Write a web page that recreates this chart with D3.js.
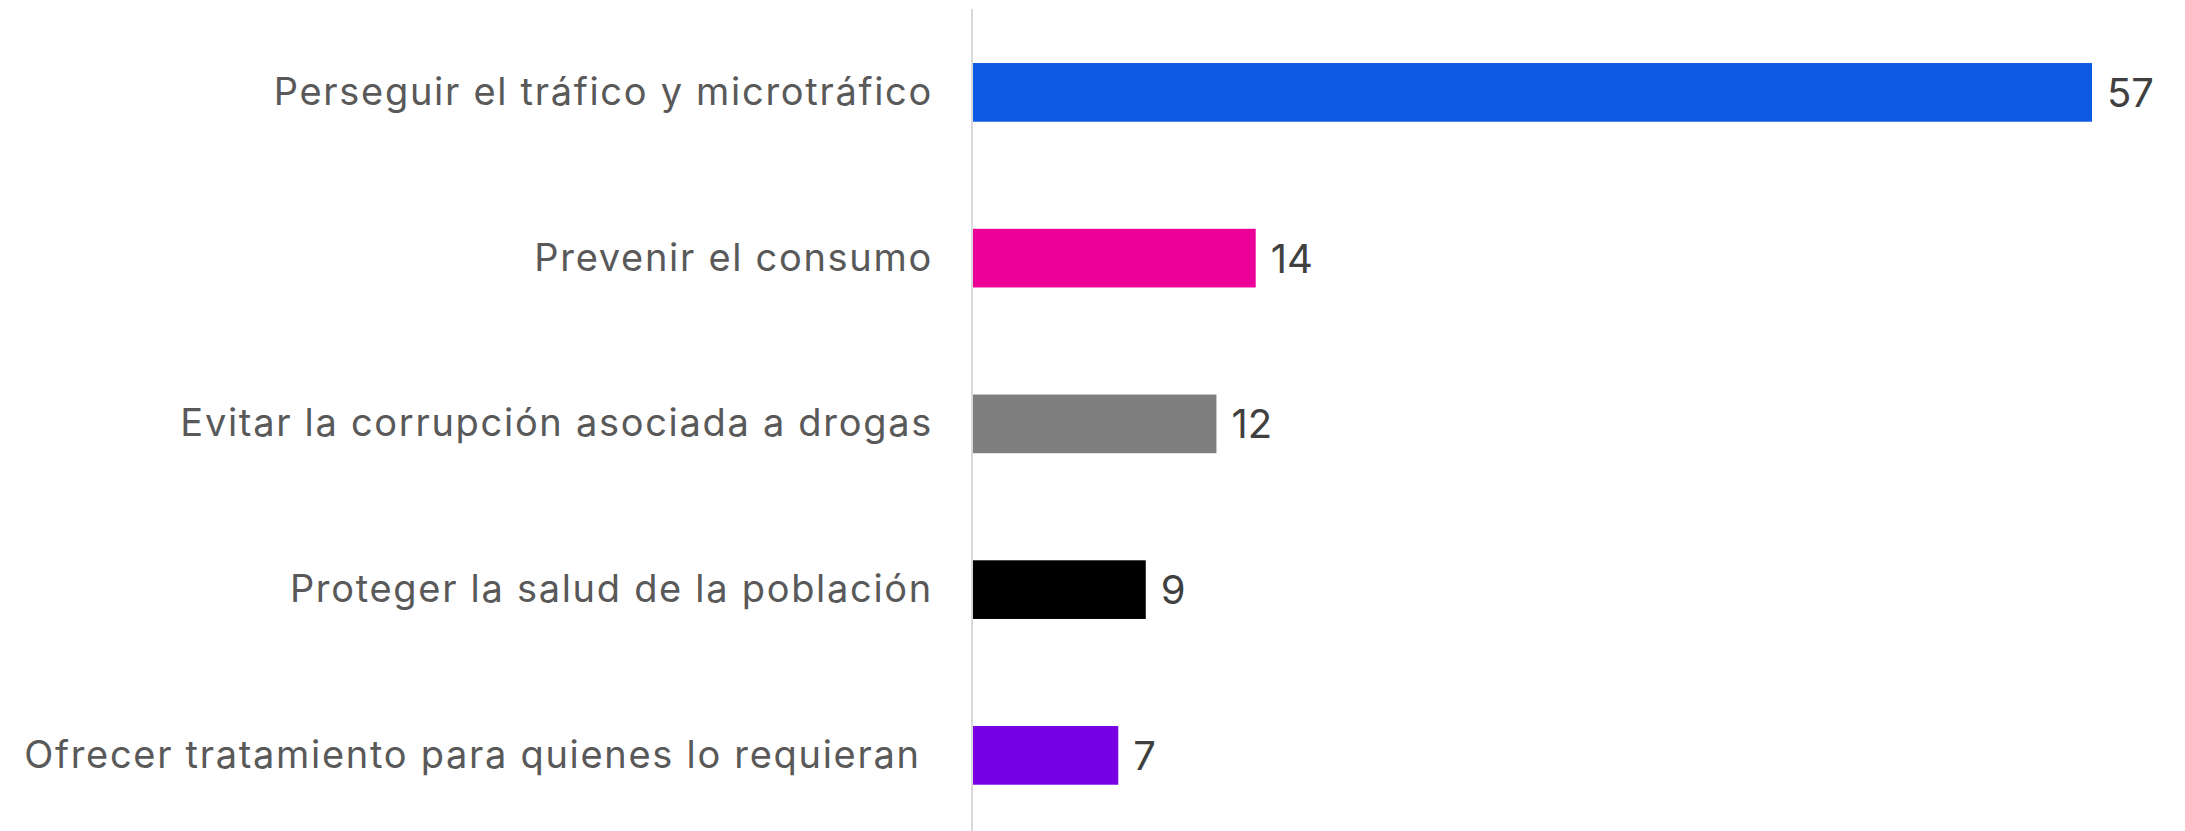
<!DOCTYPE html>
<html>
<head>
<meta charset="utf-8">
<script src="https://cdn.jsdelivr.net/npm/d3@7"></script>
<style>
  html, body { margin: 0; padding: 0; background: #ffffff; }
  svg { display: block; }
</style>
</head>
<body>
<svg id="chart" width="2185" height="831"></svg>
<script>
const categories = [
  "Perseguir el tráfico y microtráfico",
  "Prevenir el consumo",
  "Evitar la corrupción asociada a drogas",
  "Proteger la salud de la población",
  "Ofrecer tratamiento para quienes lo requieran "
];
const values = [57, 14.4, 12.4, 8.8, 7.4];
const valueLabels = ["57", "14", "12", "9", "7"];
const colors = ["#0d59e4", "#ec0098", "#7f7f7f", "#000000", "#7700e4"];

const svg = d3.select("#chart");
const axisX = 972;

const x = d3.scaleLinear().domain([0, 57]).range([axisX + 1, 2092]);
const y = d3.scaleBand().domain(categories).range([9.5, 838.25])
  .paddingInner(0.646).paddingOuter(0.323);

svg.append("g").selectAll("rect")
  .data(categories)
  .join("rect")
  .attr("x", x(0))
  .attr("y", d => y(d))
  .attr("width", (d, i) => x(values[i]) - x(0))
  .attr("height", y.bandwidth())
  .attr("fill", (d, i) => colors[i]);

// axis line
svg.append("line")
  .attr("x1", axisX).attr("x2", axisX)
  .attr("y1", 9).attr("y2", 831)
  .attr("stroke", "#d9d9d9").attr("stroke-width", 2);

// category labels
svg.append("g").selectAll("text")
  .data(categories)
  .join("text")
  .attr("x", 933)
  .attr("y", d => y(d) + y.bandwidth() / 2)
  .attr("dy", "0.33em")
  .attr("text-anchor", "end")
  .attr("font-family", "Inter, 'Noto Sans', sans-serif")
  .attr("font-size", 38)
  .attr("letter-spacing", 1.7)
  .attr("fill", "#595959")
  .style("white-space", "pre")
  .text(d => d);

// value labels
svg.append("g").selectAll("text")
  .data(categories)
  .join("text")
  .attr("x", (d, i) => x(values[i]) + 15)
  .attr("y", d => y(d) + y.bandwidth() / 2)
  .attr("dy", "0.36em")
  .attr("font-family", "Inter, 'Noto Sans', sans-serif")
  .attr("font-size", 40)
  .attr("fill", "#404040")
  .text((d, i) => valueLabels[i]);
</script>
</body>
</html>
